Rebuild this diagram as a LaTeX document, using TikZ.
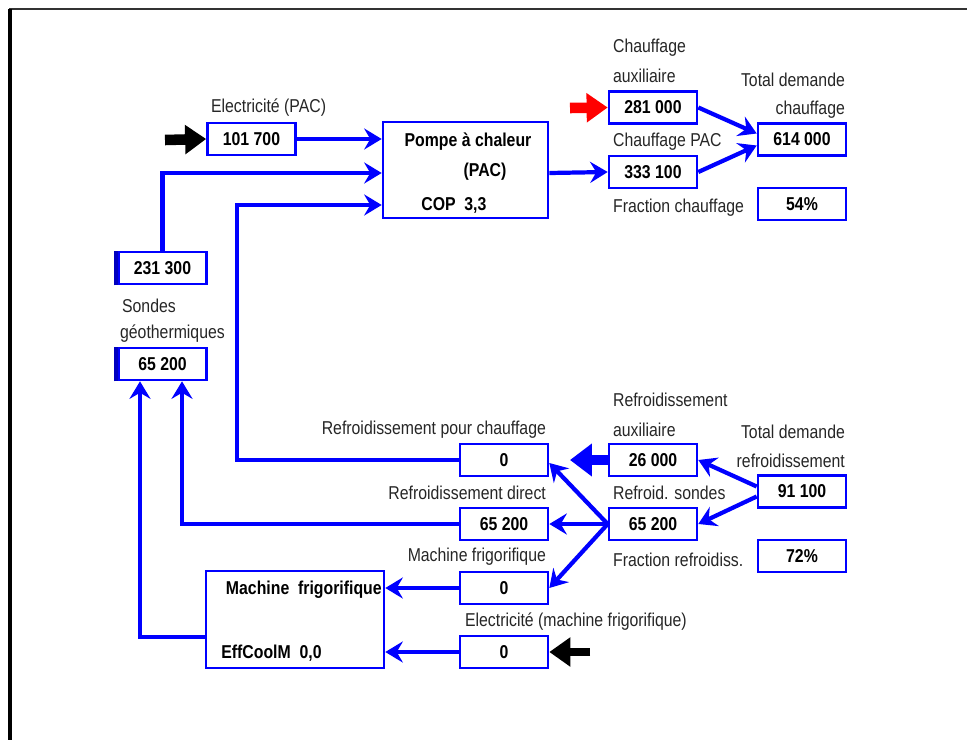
\documentclass[tikz,border=0pt]{standalone}
\usepackage{fontspec}
\setmainfont{Liberation Sans}[FakeStretch=0.85]
\usepackage{tikz}
\usetikzlibrary{positioning,arrows.meta,calc}

\begin{document}
\begin{tikzpicture}[x=0.02cm,y=-0.02cm,
    font=\fontsize{10.6pt}{12pt}\selectfont,
    valbox/.style={draw=blue,line width=1.5pt,minimum width=1.76cm,minimum height=0.64cm,inner sep=0pt,font=\fontsize{10.6pt}{12pt}\selectfont\bfseries},
    bigbox/.style={draw=blue,line width=1.5pt,inner sep=0pt},
    lbl/.style={inner sep=1pt,text=black!85},
    flow/.style={draw=blue,line width=2.4pt,-{Stealth[length=10pt,width=12pt,inset=3.5pt]}},
    fatarrow/.style={line width=6pt,-{Triangle[length=12pt,width=16pt]}},
    sondedge/.style={draw=blue!75!black,line width=2.4pt}]
    \useasboundingbox (0,0) rectangle (967,740);
    \draw[black!80,line width=1.6pt] (9,9) -- (967,9);
    \draw[black,line width=1.8pt] (10,9) -- (10,740);

    % chauffage
    \node[valbox] (elecpac) at (251.5,139) {101 700};
    \node[bigbox,minimum width=3.3cm,minimum height=1.92cm] (pac) at (465.5,170) {};
    \node[font=\fontsize{10.6pt}{12pt}\selectfont\bfseries,inner sep=0pt] (pactitle) at (468,142) {Pompe à chaleur};
    \node[font=\fontsize{10.6pt}{12pt}\selectfont\bfseries,inner sep=0pt] (pacshort) at (485,172) {(PAC)};
    \node[font=\fontsize{10.6pt}{12pt}\selectfont\bfseries,inner sep=0pt,anchor=west] (paccop) at (421,205) {COP\ \ 3,3};
    \node[valbox] (auxch) at (653,107.5) {281 000};
    \node[valbox] (chpac) at (653,172) {333 100};
    \node[valbox] (totch) at (802,139.5) {614 000};
    \node[valbox] (frach) at (802,204) {54\%};
    \node[lbl,anchor=west] (elecpaclbl) at (209,108) {Electricité (PAC)};
    \node[lbl,anchor=west] (auxchlbl1) at (611,48) {Chauffage};
    \node[lbl,anchor=west] (auxchlbl2) at (611,76) {auxiliaire};
    \node[lbl,anchor=west] (chpaclbl) at (611,142) {Chauffage PAC};
    \node[lbl,anchor=west] (frachlbl) at (611,208) {Fraction chauffage};
    \node[lbl,anchor=east] (totchlbl1) at (847,80) {Total demande};
    \node[lbl,anchor=east] (totchlbl2) at (847,110) {chauffage};

    % sondes
    \node[valbox] (sondtot) at (162.5,268) {231 300};
    \node[valbox] (sond) at (162.5,364) {65 200};
    \draw[sondedge] ([xshift=-0.6pt]sondtot.south west) -- ([xshift=-0.6pt]sondtot.north west);
    \draw[sondedge] ([xshift=-0.6pt]sond.south west) -- ([xshift=-0.6pt]sond.north west);
    \node[lbl,anchor=west] (sondlbl1) at (120,306) {Sondes};
    \node[lbl,anchor=west] (sondlbl2) at (118,334) {géothermiques};

    % refroidissement
    \node[valbox] (refch) at (504,460) {0};
    \node[valbox] (refdir) at (504,524) {65 200};
    \node[valbox] (machval) at (504,588) {0};
    \node[valbox] (elecmach) at (504,652) {0};
    \node[valbox] (auxref) at (653,460) {26 000};
    \node[valbox] (refsond) at (653,524) {65 200};
    \node[valbox] (totref) at (802,491.5) {91 100};
    \node[valbox] (fracref) at (802,556) {72\%};
    \node[bigbox,minimum width=3.56cm,minimum height=1.94cm] (mach) at (295,619.5) {};
    \node[font=\fontsize{10.6pt}{12pt}\selectfont\bfseries,inner sep=0pt,anchor=east] (machtitle) at (382,590) {Machine\ \ frigorifique};
    \node[font=\fontsize{10.6pt}{12pt}\selectfont\bfseries,inner sep=0pt,anchor=west] (macheff) at (221,653) {EffCoolM\ \ 0,0};
    \node[lbl,anchor=east] (refchlbl) at (548,430) {Refroidissement pour chauffage};
    \node[lbl,anchor=east] (refdirlbl) at (548,493) {Refroidissement direct};
    \node[lbl,anchor=east] (machvallbl) at (548,557) {Machine frigorifique};
    \node[lbl,anchor=west] (elecmachlbl) at (463,622) {Electricité (machine frigorifique)};
    \node[lbl,anchor=west] (auxreflbl1) at (611,400) {Refroidissement};
    \node[lbl,anchor=west] (auxreflbl2) at (611,430) {auxiliaire};
    \node[lbl,anchor=west] (refsondlbl) at (611,493) {Refroid. sondes};
    \node[lbl,anchor=west] (fracreflbl) at (611,560) {Fraction refroidiss.};
    \node[lbl,anchor=east] (totreflbl1) at (847,432) {Total demande};
    \node[lbl,anchor=east] (totreflbl2) at (847,461) {refroidissement};

    % apports externes
    \coordinate (elecin) at (165,140);
    \coordinate (auxin) at (570,108);
    \coordinate (machin) at (590,652);
    \coordinate (auxout) at (570,460);
    \draw[fatarrow,black] (elecin) -- (elecpac.west);
    \draw[fatarrow,red] (auxin) -- (auxch.west);
    \draw[fatarrow,black,line width=5pt] (machin) -- (elecmach.east);
    \draw[blue,line width=6pt,-{Triangle[length=12.5pt,width=18pt]}] (auxref.west) -- (auxout);

    % flux
    \draw[flow] (elecpac.east) -- (elecpac.east -| pac.west);
    \draw[flow] (sondtot.north) |- ($(pac.west)+(0,3)$);
    \coordinate (bendch) at (237,205);
    \draw[flow] (refch.west) -| (bendch) -- (bendch -| pac.west);
    \draw[flow] ($(pac.east)+(0,3)$) -- (chpac.west);
    \draw[flow] (auxch.east) -- ($(totch.west)+(0,-6)$);
    \draw[flow] (chpac.east) -- ($(totch.west)+(0,6)$);
    \draw[flow] ($(totref.west)+(0,-5)$) -- (auxref.east);
    \draw[flow] ($(totref.west)+(0,5)$) -- (refsond.east);
    \draw[flow] (refsond.west) -- ($(refch.east)+(0,3)$);
    \draw[flow] (refsond.west) -- (refdir.east);
    \draw[flow] (refsond.west) -- (machval.east);
    \draw[flow] (refdir.west) -| ($(sond.south)+(19.5,0)$);
    \draw[flow] ($(mach.west)+(0,17.5)$) -| ($(sond.south)+(-22.5,0)$);
    \draw[flow] (machval.west) -- (machval.west -| mach.east);
    \draw[flow] (elecmach.west) -- (elecmach.west -| mach.east);
\end{tikzpicture}
\end{document}
